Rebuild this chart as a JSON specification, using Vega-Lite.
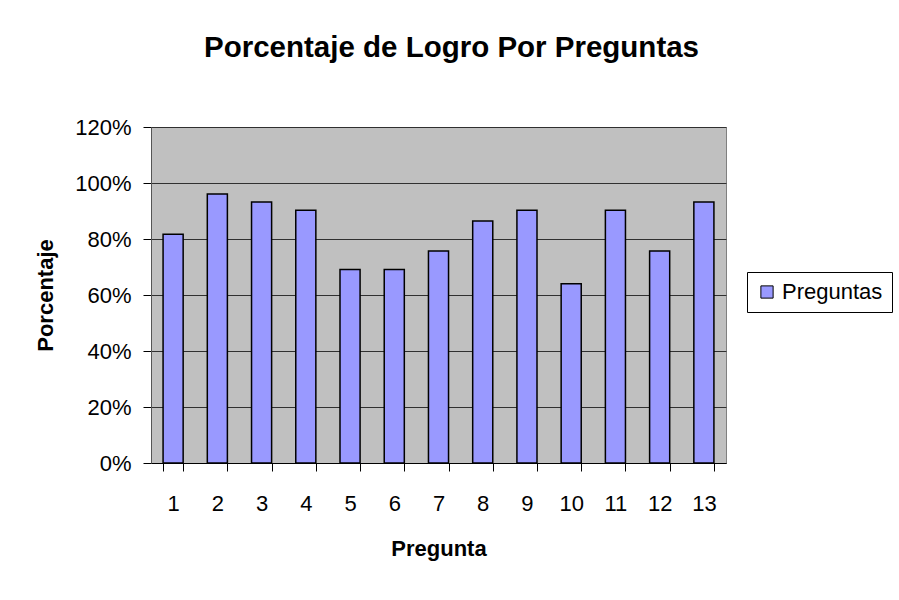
{
  "$schema": "https://vega.github.io/schema/vega-lite/v6.json",
  "width": 575,
  "height": 336,
  "autosize": {"type": "none"},
  "padding": {"left": 151, "top": 127, "right": 173, "bottom": 137},
  "background": "white",
  "title": {
    "text": "Porcentaje de Logro Por Preguntas",
    "font": "Liberation Sans",
    "fontSize": 29.5,
    "fontWeight": "bold",
    "color": "black",
    "anchor": "middle",
    "frame": "group",
    "dx": 13,
    "offset": 53
  },
  "data": {
    "values": [
      {"Pregunta": "1", "Porcentaje": 0.817},
      {"Pregunta": "2", "Porcentaje": 0.961},
      {"Pregunta": "3", "Porcentaje": 0.932},
      {"Pregunta": "4", "Porcentaje": 0.903},
      {"Pregunta": "5", "Porcentaje": 0.691},
      {"Pregunta": "6", "Porcentaje": 0.691},
      {"Pregunta": "7", "Porcentaje": 0.757},
      {"Pregunta": "8", "Porcentaje": 0.864},
      {"Pregunta": "9", "Porcentaje": 0.903},
      {"Pregunta": "10", "Porcentaje": 0.640},
      {"Pregunta": "11", "Porcentaje": 0.903},
      {"Pregunta": "12", "Porcentaje": 0.757},
      {"Pregunta": "13", "Porcentaje": 0.932}
    ]
  },
  "mark": {"type": "bar", "stroke": "black", "strokeWidth": 1.5},
  "encoding": {
    "x": {
      "field": "Pregunta",
      "type": "ordinal",
      "sort": null,
      "scale": {"paddingInner": 0.546, "paddingOuter": 0.273},
      "axis": {
        "title": "Pregunta",
        "titleFont": "Liberation Sans",
        "titleFontSize": 22,
        "titleFontWeight": "bold",
        "titleColor": "black",
        "titlePadding": 24,
        "labelAngle": 0,
        "labelFont": "Liberation Sans",
        "labelFontSize": 22,
        "labelColor": "black",
        "labelPadding": 22,
        "tickBand": "extent",
        "tickSize": 8,
        "tickColor": "black",
        "domainColor": "black",
        "grid": false
      }
    },
    "y": {
      "field": "Porcentaje",
      "type": "quantitative",
      "scale": {"domain": [0, 1.2]},
      "axis": {
        "title": "Porcentaje",
        "titleFont": "Liberation Sans",
        "titleFontSize": 22,
        "titleFontWeight": "bold",
        "titleColor": "black",
        "titlePadding": 17,
        "values": [0, 0.2, 0.4, 0.6, 0.8, 1.0, 1.2],
        "format": ".0%",
        "labelFont": "Liberation Sans",
        "labelFontSize": 22,
        "labelColor": "black",
        "labelPadding": 12,
        "tickSize": 8,
        "tickColor": "black",
        "domainColor": "#555555",
        "grid": true,
        "gridColor": "#303030",
        "gridWidth": 1
      }
    },
    "color": {
      "datum": "Preguntas",
      "scale": {"range": ["#9999FF"]},
      "legend": {
        "title": null,
        "orient": "none",
        "legendX": 596,
        "legendY": 145,
        "strokeColor": "black",
        "fillColor": "white",
        "padding": 9,
        "symbolType": "square",
        "symbolSize": 150,
        "symbolStrokeColor": "black",
        "symbolStrokeWidth": 1,
        "labelFont": "Liberation Sans",
        "labelFontSize": 22,
        "labelColor": "black"
      }
    }
  },
  "config": {
    "view": {"fill": "#C0C0C0", "stroke": "#808080", "strokeWidth": 1}
  }
}
